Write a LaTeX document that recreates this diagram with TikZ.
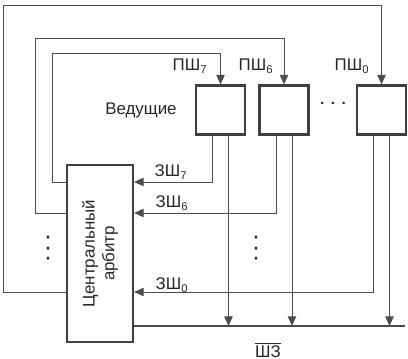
\documentclass[tikz,border=0pt]{standalone}
\usepackage{fontspec}
\setmainfont{Liberation Sans}
\usetikzlibrary{arrows.meta,positioning,calc}

\begin{document}
\begin{tikzpicture}[x=0.25mm,y=-0.25mm,
  wire/.style={draw=black!70,line width=0.7pt},
  arr/.style={wire,-{Triangle[length=2.4mm,width=2.1mm]}},
  master/.style={draw=black!75,line width=1.6pt,minimum size=12.2mm,inner sep=0pt},
  lbl/.style={font=\fontsize{12}{14}\selectfont,text=black!85,inner sep=1pt},
  dots/.style={font=\fontsize{18}{20}\selectfont,text=black!85,inner sep=0pt},
  vdots/.style={font=\fontsize{18}{7.5}\selectfont,text=black!85,inner sep=0pt,align=center},
]
  \useasboundingbox (0,0) rectangle (408,359);

  % masters and arbiter
  \node[master] (m7) at (220.5,110) {};
  \node[master] (m6) at (284,110) {};
  \node[master] (m0) at (381.5,110) {};
  \node[master,minimum width=16.5mm,minimum height=44.2mm] (arb) at (100,253.5) {};
  \node[lbl,rotate=90,align=center] (arbtxt) at (arb) {Центральный\\арбитр};

  % bus and grant/request levels
  \coordinate (busend) at (405,326);
  \coordinate (g7) at (0,182);
  \coordinate (g6) at (0,213);
  \coordinate (g0) at (0,292);
  \draw[wire,line width=1pt] (arb.east |- busend) -- (busend);

  % grant lines
  \draw[arr] (arb.west |- g7) -| (52,53) -| (m7.north);
  \draw[arr] (arb.west |- g6) -| (35,38) -| (m6.north);
  \draw[arr] (arb.west |- g0) -| (3,5) -| (m0.north);

  % request lines and bus lines
  \foreach \m/\g in {m7/g7,m6/g6,m0/g0} {
    \draw[arr] ([xshift=-2mm]\m.south) |- (arb.east |- \g);
    \draw[arr] ([xshift=2mm]\m.south) -- ([xshift=2mm]\m.south |- busend);
  }

  % labels
  \node[lbl] (p7) at (190,66) {ПШ\textsubscript{7}};
  \node[lbl] (p6) at (256,66) {ПШ\textsubscript{6}};
  \node[lbl] (p0) at (352,66) {ПШ\textsubscript{0}};
  \node[lbl] (z7) at (171,172) {ЗШ\textsubscript{7}};
  \node[lbl] (z6) at (172,203) {ЗШ\textsubscript{6}};
  \node[lbl] (z0) at (172,285) {ЗШ\textsubscript{0}};
  \node[lbl] (lead) at (141,110) {Ведущие};
  \node[dots] (hdots) at (333,104) {$\cdots$};
  \node[vdots] (vdl) at (48,251) {·\\·\\·};
  \node[vdots] (vdr) at (256,251) {·\\·\\·};
  \node[lbl] (busname) at (268,350) {$\overline{\mbox{ШЗ}}$};
\end{tikzpicture}
\end{document}
